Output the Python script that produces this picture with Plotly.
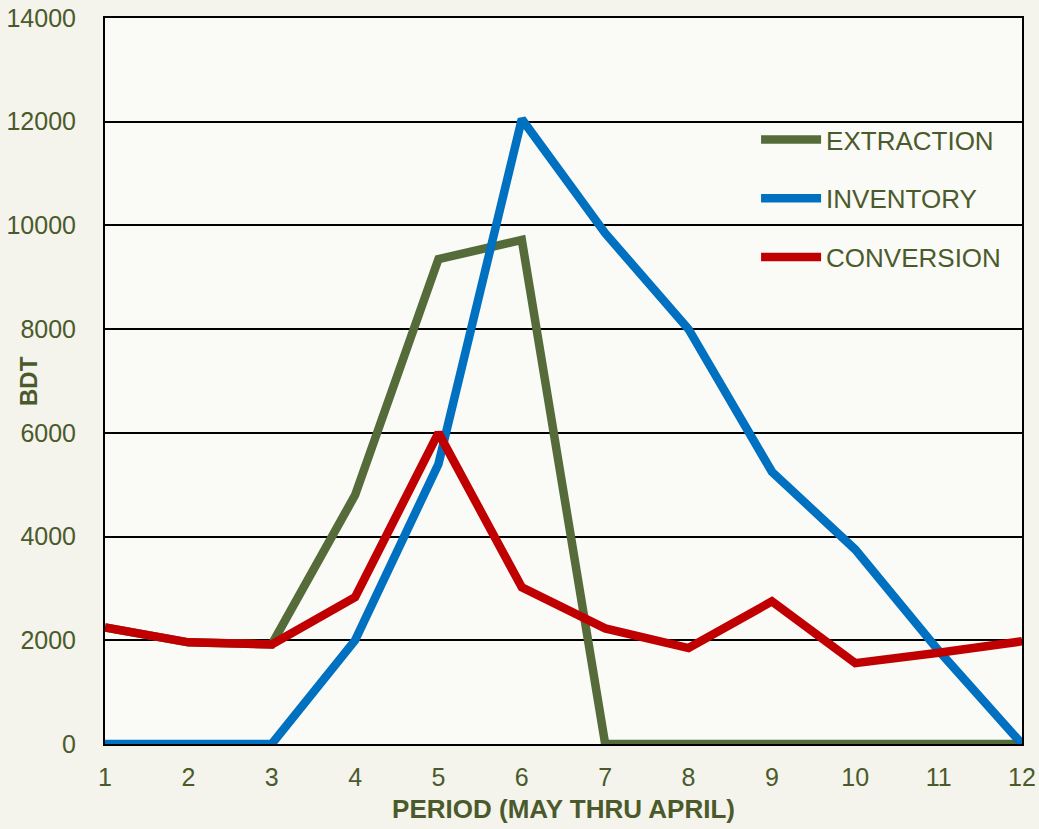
import plotly.graph_objects as go

periods = [1, 2, 3, 4, 5, 6, 7, 8, 9, 10, 11, 12]
extraction = [2250, 1960, 1920, 4800, 9350, 9720, 0, 0, 0, 0, 0, 0]
inventory = [0, 0, 0, 2000, 5400, 12050, 9850, 8000, 5250, 3750, 1800, 0]
conversion = [2250, 1960, 1920, 2830, 6000, 3020, 2230, 1850, 2750, 1560, 1760, 1980]
y_ticks = [0, 2000, 4000, 6000, 8000, 10000, 12000, 14000]

text_color = "#4b5a2b"
font_family = "Liberation Sans, Arial, sans-serif"

fig = go.Figure()
fig.add_trace(go.Scatter(x=periods, y=extraction, mode="lines", name="EXTRACTION",
                         line=dict(color="#566b3a", width=8.5), legendgroup="a"))
fig.add_trace(go.Scatter(x=periods, y=inventory, mode="lines", name="INVENTORY",
                         line=dict(color="#0070c0", width=8.5), legendgroup="b"))
fig.add_trace(go.Scatter(x=periods, y=conversion, mode="lines", name="CONVERSION",
                         line=dict(color="#c00000", width=8.5), legendgroup="c"))

fig.update_layout(
    width=1039, height=829,
    margin=dict(l=105, r=17, t=18, b=85),
    paper_bgcolor="#f4f4ec",
    plot_bgcolor="#fafaf6",
    font=dict(family=font_family, color=text_color, size=26),
    legend=dict(x=0.71, y=0.865, xanchor="left", yanchor="top",
                bgcolor="rgba(0,0,0,0)", font=dict(size=26, color=text_color),
                tracegroupgap=22, itemwidth=60),
    showlegend=True,
    annotations=[dict(text="<b>BDT</b>", xref="paper", yref="paper", x=0, y=0.5,
                      xanchor="center", yanchor="middle", xshift=-77, textangle=-90,
                      showarrow=False, font=dict(size=24, color=text_color))],
)
fig.update_xaxes(
    range=[1, 12], tickvals=periods, ticktext=[str(p) for p in periods],
    showgrid=False, zeroline=False, showline=True, linecolor="black", linewidth=2,
    mirror=True, ticks="", ticklabelstandoff=10, automargin=False,
    tickfont=dict(size=25),
    title=dict(text="<b>PERIOD (MAY THRU APRIL)</b>", font=dict(size=26, color=text_color), standoff=10),
)
fig.update_yaxes(
    range=[0, 14000], tickvals=y_ticks, ticktext=[str(v) for v in y_ticks],
    showgrid=True, gridcolor="black", gridwidth=2, zeroline=False,
    showline=True, linecolor="black", linewidth=2, mirror=True, ticks="", ticklabelstandoff=22,
    automargin=False, tickfont=dict(size=25),
)

fig.write_html("out.html", config={"displayModeBar": False},
               post_script="document.body.style.margin='0';document.body.style.padding='0';")
